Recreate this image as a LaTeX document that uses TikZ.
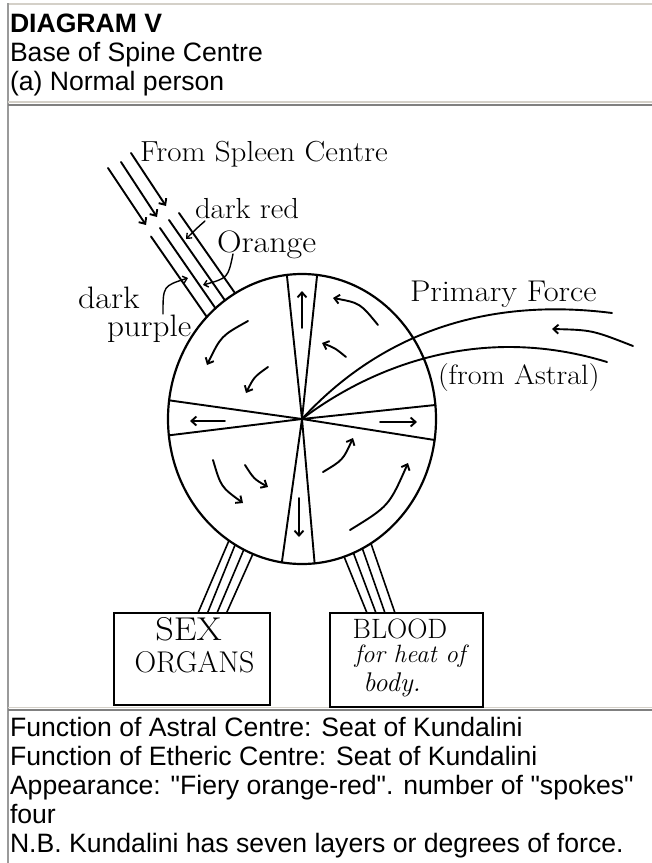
\documentclass[tikz,border=0pt]{standalone}
\usepackage{fontspec}
\newfontfamily\arialf{Liberation Sans}
\usetikzlibrary{arrows.meta,shapes.geometric}
\definecolor{bordlight}{HTML}{D4D0C8}
\definecolor{borddark}{HTML}{808080}
\newcommand\calwide[2]{\scalebox{#1}[1]{#2}}
\begin{document}
\begin{tikzpicture}[x=1pt,y=-1pt,
  ln/.style={line width=1.9pt,line cap=round,line join=round},
  arr/.style={ln,-{Straight Barb[length=5pt,width=9pt]}},
  sarr/.style={line width=1.4pt,line cap=round,-{Straight Barb[length=4pt,width=7pt]}},
  txt/.style={inner sep=0pt,outer sep=0pt,anchor=base west,font=\arialf\fontsize{26.6}{29}\selectfont},
  lab/.style={inner sep=0pt,outer sep=0pt,anchor=base west},
  blab/.style={inner sep=0pt,outer sep=0pt,anchor=base},
  cbox/.style={draw,line width=2pt,inner sep=0pt,outer sep=0pt},
  chan/.style={ln,line width=1.6pt},
]
\useasboundingbox (0,0) rectangle (652,863);
\fill[white] (0,0) rectangle (652,863);
% table borders
\draw[bordlight,line width=2pt] (7,3.5) -- (652,3.5);
\draw[borddark!80,line width=2pt] (7.5,3) -- (7.5,863);
\draw[bordlight,line width=1.5pt] (8,102) -- (652,102);
\draw[borddark,line width=2pt] (8,104.5) -- (652,104.5);
\draw[bordlight,line width=1.5pt] (8,707.5) -- (652,707.5);
\draw[borddark,line width=2pt] (8,710) -- (652,710);
% header text
\node[txt,font=\arialf\bfseries\fontsize{26.6}{29}\selectfont] (t1) at (10,32) {DIAGRAM V};
\node[txt] (t2) at (10,61) {Base of Spine Centre};
\node[txt] (t3) at (10,90) {(a) Normal person};
% bottom text
\node[txt] (b1) at (10,736) {Function of Astral Centre: Seat of Kundalini};
\node[txt] (b2) at (10,765) {Function of Etheric Centre: Seat of Kundalini};
\node[txt] (b3) at (10,794) {Appearance: "Fiery orange-red". number of "spokes"};
\node[txt] (b4) at (10,823) {four};
\node[txt] (b5) at (10,852) {N.B. Kundalini has seven layers or degrees of force.};
% the centre
\node[ellipse,draw,line width=2.2pt,minimum width=268pt,minimum height=290pt,inner sep=0pt,outer sep=0pt] (chakra) at (302,419) {};
% spokes
\draw[ln] (chakra.96) -- (chakra.center) -- (chakra.84);
\draw[ln] (chakra.262.5) -- (chakra.center) -- (chakra.275);
\draw[ln] (chakra.172.3) -- (chakra.center) -- (chakra.187.7);
\draw[ln] (chakra.6.4) -- (chakra.center) -- (chakra.351.8);
% arrows in spokes
\draw[arr] (302,328) -- (302,291);
\draw[arr] (299,498) -- (299,537);
\draw[arr] (225,421) -- (190,421);
\draw[arr] (380,422) -- (417,422);
% rotating arrows
\draw[arr] (378,325) .. controls (360,303) .. (333,298);
\draw[arr] (346,357) .. controls (335,348) .. (322,343);
\draw[arr] (248,321) .. controls (221,336) .. (207,365);
\draw[arr] (268,367) .. controls (254,377) .. (246,393);
\draw[arr] (213,460) .. controls (221,487) .. (243,503);
\draw[arr] (245,465) .. controls (254,479) .. (268,487);
\draw[arr] (323,472) .. controls (343,460) .. (353,438);
\draw[arr] (350,530) .. controls (389,506) .. (408,463);
% primary force
\coordinate (pfA) at (612,313);
\coordinate (pfB) at (607,362);
\coordinate (pfs) at (633,346);
\coordinate (pfe) at (552,329);
\draw[ln] (chakra.center) .. controls (370,345) and (470,295) .. (pfA);
\draw[ln] (chakra.center) .. controls (360,375) and (470,320) .. (pfB);
\draw[arr] (pfs) .. controls (592,330) .. (pfe);
\node[lab,font=\fontsize{30}{32}\selectfont] (pf) at (410,301) {\calwide{1.08}{Primary Force}};
\node[lab,font=\fontsize{28}{30}\selectfont] (fa) at (438,384) {\calwide{1.08}{(from Astral)}};
% spleen streams
\node[lab,font=\fontsize{29}{31}\selectfont] (spl) at (140,161) {\calwide{1.07}{From Spleen Centre}};
\coordinate (s1a) at (108,168); \coordinate (s1b) at (146,225);
\coordinate (s2a) at (121,162); \coordinate (s2b) at (157,217);
\coordinate (s3a) at (131,153); \coordinate (s3b) at (166,206);
\draw[arr] (s1a) -- (s1b);
\draw[arr] (s2a) -- (s2b);
\draw[arr] (s3a) -- (s3b);
\coordinate (c1) at (151,236.5);
\coordinate (c2) at (160,228);
\coordinate (c3) at (169,220);
\coordinate (c4) at (179,213);
\draw[ln] (c1) -- (chakra.133);
\draw[ln] (c2) -- (chakra.128);
\draw[ln] (c3) -- (chakra.123);
\draw[ln] (c4) -- (chakra.118);
\node[lab,font=\fontsize{29}{31}\selectfont] (dr) at (195,218) {\calwide{1.06}{dark red}};
\node[lab,font=\fontsize{31}{33}\selectfont] (or) at (217,252) {\calwide{1.1}{Orange}};
\node[lab,font=\fontsize{31}{33}\selectfont] (dk) at (78,308) {\calwide{1.1}{dark}};
\node[lab,font=\fontsize{31}{33}\selectfont] (pu) at (107,336) {\calwide{1.07}{purple}};
\draw[sarr] (205,221) .. controls (197,228) .. (186,239);
\draw[sarr] (233,254) .. controls (228,278) .. (203,285);
\draw[sarr] (163,314) .. controls (163,286) .. (188,278);
% outflows
\node[cbox,minimum width=156pt,minimum height=92pt] (sexbox) at (192,659) {};
\node[cbox,minimum width=153pt,minimum height=94pt] (bloodbox) at (406.5,660) {};
\draw[chan] (chakra.239) -- (198,0 |- sexbox.north);
\draw[chan] (chakra.242.9) -- (207.5,0 |- sexbox.north);
\draw[chan] (chakra.246.7) -- (217,0 |- sexbox.north);
\draw[chan] (chakra.250.5) -- (226.5,0 |- sexbox.north);
\draw[chan] (chakra.287.6) -- (367,0 |- bloodbox.north);
\draw[chan] (chakra.291.4) -- (376,0 |- bloodbox.north);
\draw[chan] (chakra.295.2) -- (385,0 |- bloodbox.north);
\draw[chan] (chakra.299) -- (395,0 |- bloodbox.north);
\node[blab,font=\fontsize{33}{35}\selectfont] (sx) at (188.5,640) {\calwide{1.1}{SEX}};
\node[blab,font=\fontsize{30}{32}\selectfont] (og) at (194.5,672) {ORGANS};
\node[blab,font=\fontsize{28}{30}\selectfont] (bl) at (400,638) {BLOOD};
\node[blab,font=\itshape\fontsize{25}{27}\selectfont] (fh) at (410,662) {for heat of};
\node[blab,font=\itshape\fontsize{27}{29}\selectfont] (bd) at (392,691) {body.};
\end{tikzpicture}
\end{document}
